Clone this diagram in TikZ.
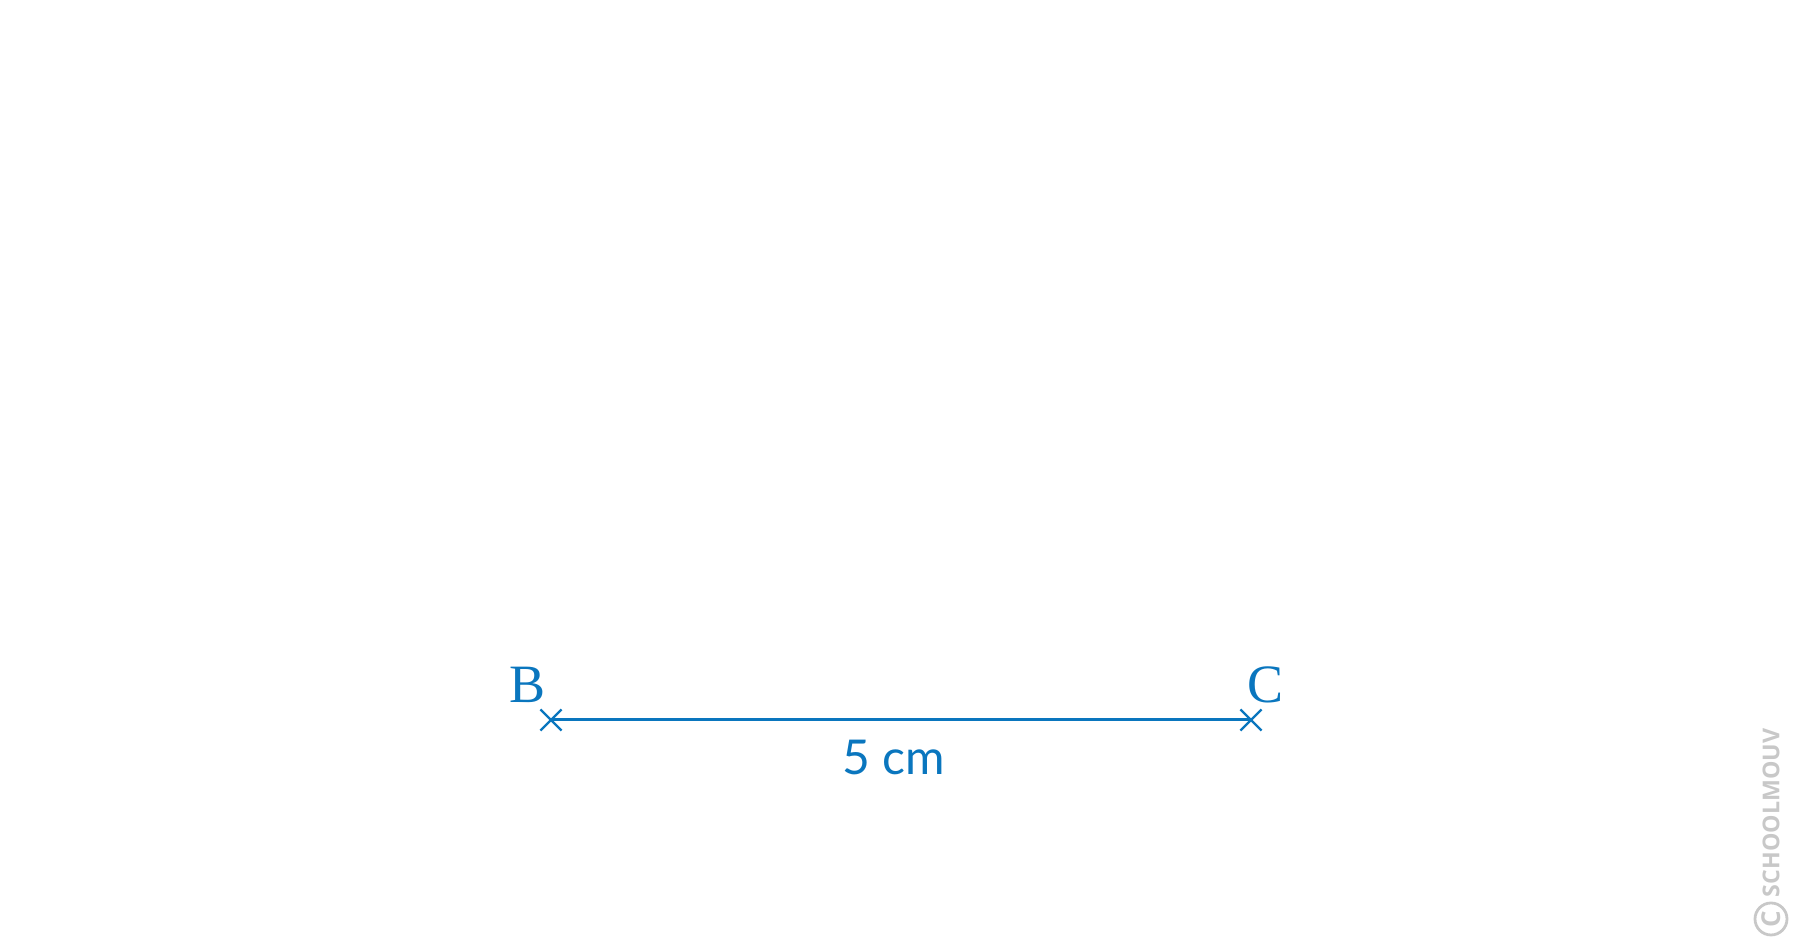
\documentclass[tikz,border=0pt]{standalone}
\usepackage{fontspec}
\setmainfont{Liberation Serif}
\newfontfamily\labelfont{Lato}
\newfontfamily\markfont{Open Sans}
\usetikzlibrary{shapes.misc}
\definecolor{segblue}{RGB}{10,118,190}
\definecolor{markgray}{RGB}{200,200,200}
\tikzset{
  pointmark/.style={cross out, draw=segblue, line width=1.1pt, minimum size=9.5pt, inner sep=0pt},
  pointname/.style={text=segblue, font=\fontsize{27}{27}\selectfont}
}
\begin{document}
  \begin{tikzpicture}[x=0.5pt, y=0.5pt]
    \useasboundingbox (0,0) rectangle (1801,951);
    \node [pointmark] (B) at (551,231) {};
    \node [pointmark] (C) at (1251,231) {};
    \draw [segblue, line width=1.5pt] (B.center) -- (C.center);
    \node [pointname] (nameB) at (528,266) {B};
    \node [pointname] (nameC) at (1265,266) {C};
    \node [text=segblue, font=\labelfont\fontsize{24}{24}\selectfont] (len) at (894,193) {5 cm};
    % watermark
    \node [text=markgray, rotate=90, font=\markfont\bfseries\fontsize{11.6}{11.6}\selectfont] (mark) at (1771,138) {SCHOOLMOUV};
    \node [draw=markgray, line width=1.4pt, circle, minimum size=16pt, inner sep=0pt, text=markgray, font=\markfont\bfseries\fontsize{13}{13}\selectfont, rotate=90] (copy) at (1771,32) {C};
  \end{tikzpicture}
\end{document}
